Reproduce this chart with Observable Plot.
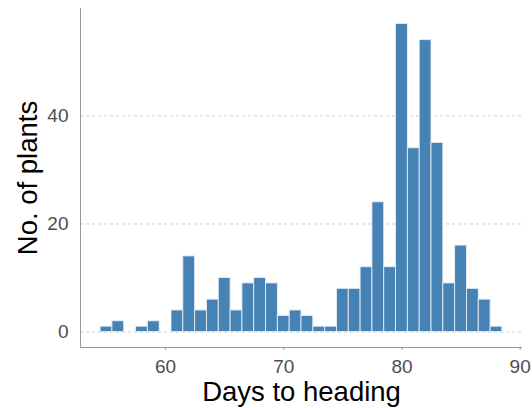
<!DOCTYPE html>
<html>
<head>
<meta charset="utf-8">
<script src="https://cdn.jsdelivr.net/npm/d3@7"></script>
<script src="https://cdn.jsdelivr.net/npm/@observablehq/plot@0.6"></script>
<style>
  html, body { margin: 0; padding: 0; background: #fff; }
</style>
</head>
<body>
<div id="chart"></div>
<script>
const days   = [55, 56, 57, 58, 59, 60, 61, 62, 63, 64, 65, 66, 67, 68, 69, 70, 71, 72, 73, 74, 75, 76, 77, 78, 79, 80, 81, 82, 83, 84, 85, 86, 87, 88];
const counts = [1, 2, 0, 1, 2, 0, 4, 14, 4, 6, 10, 4, 9, 10, 9, 3, 4, 3, 1, 1, 8, 8, 12, 24, 12, 57, 34, 54, 35, 9, 16, 8, 6, 1];
const xTicks = [60, 70, 80, 90];
const yTicks = [0, 20, 40];
const xTitle = "Days to heading";
const yTitle = "No. of plants";

const data = days.map((d, i) => ({day: d, count: counts[i]})).filter(d => d.count > 0);
const xDomain = [52.8, 90.2];
const yDomain = [-2.85, 59.85];

const chart = Plot.plot({
  width: 532,
  height: 408,
  marginLeft: 80,
  marginTop: 8,
  marginRight: 10,
  marginBottom: 61,
  style: {fontFamily: "'Liberation Sans', Arial, sans-serif", background: "#fff"},
  x: {domain: xDomain},
  y: {domain: yDomain},
  marks: [
    Plot.ruleY(yTicks, {stroke: "#cccccc", strokeDasharray: "3,3"}),
    Plot.rectY(data, {x1: d => d.day - 0.5, x2: d => d.day + 0.5, y: "count", fill: "#4682B4", stroke: "#e6eef6", strokeWidth: 0.9}),
    Plot.ruleX([xDomain[0]], {stroke: "#999999"}),
    Plot.ruleY([yDomain[0]], {stroke: "#999999"}),
    Plot.axisX(xTicks, {tickSize: 3, tickPadding: 9, fontSize: 19, stroke: "#999999", fill: "#4d4d4d", label: null}),
    Plot.axisY(yTicks, {tickSize: 0, tickPadding: 12, fontSize: 19, fill: "#4d4d4d", label: null}),
    Plot.text([xTitle], {frameAnchor: "bottom", textAnchor: "middle", lineAnchor: "bottom", dy: 53, fontSize: 27.5, fill: "#000"}),
    Plot.text([yTitle], {frameAnchor: "left", textAnchor: "middle", lineAnchor: "bottom", rotate: -90, dx: -44, fontSize: 27.5, fill: "#000"})
  ]
});
document.getElementById("chart").appendChild(chart);
</script>
</body>
</html>
